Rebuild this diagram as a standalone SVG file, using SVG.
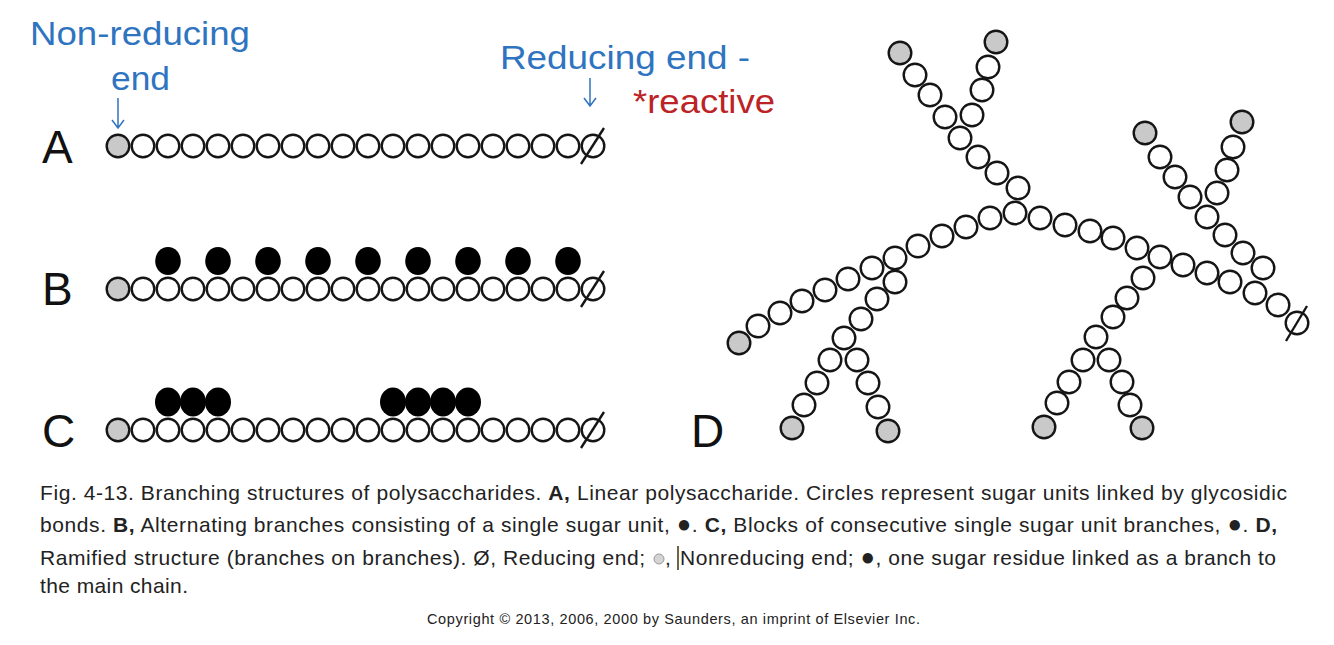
<svg xmlns="http://www.w3.org/2000/svg" xmlns:xlink="http://www.w3.org/1999/xlink" width="1334" height="645" viewBox="0 0 1334 645">
<style>
.u{fill:#fff;stroke:#151515;stroke-width:2.4}
.g{fill:#c9c9c9;stroke:#151515;stroke-width:2.4}
.b{fill:#000}
.sl{stroke:#151515;stroke-width:2.4}
.lbl{font-family:"Liberation Sans",Arial,sans-serif;font-size:46px;fill:#111}
.blue{font-family:"Liberation Sans",Arial,sans-serif;font-size:33px;fill:#2E74C0}
.red{font-family:"Liberation Sans",Arial,sans-serif;font-size:33px;fill:#BB2326}
.cap{font-family:"Liberation Sans",Arial,sans-serif;font-size:21px;fill:#222}
.bul{font-size:24px}
.copy{font-family:"Liberation Sans",Arial,sans-serif;font-size:14.5px;fill:#222}
.arr{stroke:#2E74C0;stroke-width:1.5;fill:none}
</style>
<defs>
<circle id="cu" r="11.3" class="u"/>
<circle id="cg" r="11.3" class="g"/>
</defs>
<rect width="1334" height="645" fill="#fff"/>

<g id="annotations">
<text class="blue" x="30" y="45" textLength="220" lengthAdjust="spacingAndGlyphs">Non-reducing</text>
<text class="blue" x="111" y="90" textLength="59" lengthAdjust="spacingAndGlyphs">end</text>
<text class="blue" x="500" y="69" textLength="250" lengthAdjust="spacingAndGlyphs">Reducing end -</text>
<text class="red" x="633" y="113" textLength="142" lengthAdjust="spacingAndGlyphs">*reactive</text>
</g>

<g id="connectors">
<path class="arr" d="M118 98 V128 M112 120 L118 128 L124 120"/>
<path class="arr" d="M590 78 V106 M584 98 L590 106 L596 98"/>
</g>

<g id="labels">
<text class="lbl" x="42" y="163">A</text>
<text class="lbl" x="42" y="305">B</text>
<text class="lbl" x="42" y="447">C</text>
<text class="lbl" x="691" y="447">D</text>
</g>

<g id="row-a">
<use xlink:href="#cg" x="118" y="146"/>
<use xlink:href="#cu" x="143" y="146"/><use xlink:href="#cu" x="168" y="146"/><use xlink:href="#cu" x="193" y="146"/><use xlink:href="#cu" x="218" y="146"/><use xlink:href="#cu" x="243" y="146"/><use xlink:href="#cu" x="268" y="146"/><use xlink:href="#cu" x="293" y="146"/><use xlink:href="#cu" x="318" y="146"/><use xlink:href="#cu" x="343" y="146"/><use xlink:href="#cu" x="368" y="146"/><use xlink:href="#cu" x="393" y="146"/><use xlink:href="#cu" x="418" y="146"/><use xlink:href="#cu" x="443" y="146"/><use xlink:href="#cu" x="468" y="146"/><use xlink:href="#cu" x="493" y="146"/><use xlink:href="#cu" x="518" y="146"/><use xlink:href="#cu" x="543" y="146"/><use xlink:href="#cu" x="568" y="146"/>
<use xlink:href="#cu" x="593" y="146"/><line class="sl" x1="581" y1="164" x2="604" y2="128"/>
</g>

<g id="row-b">
<ellipse class="b" cx="168" cy="261" rx="12.8" ry="14"/><ellipse class="b" cx="218" cy="261" rx="12.8" ry="14"/><ellipse class="b" cx="268" cy="261" rx="12.8" ry="14"/><ellipse class="b" cx="318" cy="261" rx="12.8" ry="14"/><ellipse class="b" cx="368" cy="261" rx="12.8" ry="14"/><ellipse class="b" cx="418" cy="261" rx="12.8" ry="14"/><ellipse class="b" cx="468" cy="261" rx="12.8" ry="14"/><ellipse class="b" cx="518" cy="261" rx="12.8" ry="14"/><ellipse class="b" cx="568" cy="261" rx="12.8" ry="14"/>
<use xlink:href="#cg" x="118" y="289"/>
<use xlink:href="#cu" x="143" y="289"/><use xlink:href="#cu" x="168" y="289"/><use xlink:href="#cu" x="193" y="289"/><use xlink:href="#cu" x="218" y="289"/><use xlink:href="#cu" x="243" y="289"/><use xlink:href="#cu" x="268" y="289"/><use xlink:href="#cu" x="293" y="289"/><use xlink:href="#cu" x="318" y="289"/><use xlink:href="#cu" x="343" y="289"/><use xlink:href="#cu" x="368" y="289"/><use xlink:href="#cu" x="393" y="289"/><use xlink:href="#cu" x="418" y="289"/><use xlink:href="#cu" x="443" y="289"/><use xlink:href="#cu" x="468" y="289"/><use xlink:href="#cu" x="493" y="289"/><use xlink:href="#cu" x="518" y="289"/><use xlink:href="#cu" x="543" y="289"/><use xlink:href="#cu" x="568" y="289"/>
<use xlink:href="#cu" x="593" y="289"/><line class="sl" x1="581" y1="307" x2="604" y2="271"/>
</g>

<g id="row-c">
<ellipse class="b" cx="168" cy="402" rx="13" ry="14.5"/><ellipse class="b" cx="193" cy="402" rx="13" ry="14.5"/><ellipse class="b" cx="218" cy="402" rx="13" ry="14.5"/>
<ellipse class="b" cx="393" cy="402" rx="13" ry="14.5"/><ellipse class="b" cx="418" cy="402" rx="13" ry="14.5"/><ellipse class="b" cx="443" cy="402" rx="13" ry="14.5"/><ellipse class="b" cx="468" cy="402" rx="13" ry="14.5"/>
<use xlink:href="#cg" x="118" y="430"/>
<use xlink:href="#cu" x="143" y="430"/><use xlink:href="#cu" x="168" y="430"/><use xlink:href="#cu" x="193" y="430"/><use xlink:href="#cu" x="218" y="430"/><use xlink:href="#cu" x="243" y="430"/><use xlink:href="#cu" x="268" y="430"/><use xlink:href="#cu" x="293" y="430"/><use xlink:href="#cu" x="318" y="430"/><use xlink:href="#cu" x="343" y="430"/><use xlink:href="#cu" x="368" y="430"/><use xlink:href="#cu" x="393" y="430"/><use xlink:href="#cu" x="418" y="430"/><use xlink:href="#cu" x="443" y="430"/><use xlink:href="#cu" x="468" y="430"/><use xlink:href="#cu" x="493" y="430"/><use xlink:href="#cu" x="518" y="430"/><use xlink:href="#cu" x="543" y="430"/><use xlink:href="#cu" x="568" y="430"/>
<use xlink:href="#cu" x="593" y="430"/><line class="sl" x1="581" y1="448" x2="604" y2="412"/>
</g>

<g id="ramified-d">
<g id="d-upper-left">
<use xlink:href="#cg" x="900" y="53"/><use xlink:href="#cu" x="915" y="75"/><use xlink:href="#cu" x="930" y="95"/><use xlink:href="#cu" x="945" y="117"/>
<use xlink:href="#cg" x="996" y="42"/><use xlink:href="#cu" x="988" y="67"/><use xlink:href="#cu" x="982" y="90"/><use xlink:href="#cu" x="972" y="115"/>
<use xlink:href="#cu" x="960" y="138"/><use xlink:href="#cu" x="978" y="157"/><use xlink:href="#cu" x="997" y="173"/><use xlink:href="#cu" x="1018" y="188"/>
</g>
<g id="d-upper-right">
<use xlink:href="#cg" x="1145" y="133"/><use xlink:href="#cu" x="1160" y="157"/><use xlink:href="#cu" x="1175" y="177"/><use xlink:href="#cu" x="1190" y="197"/>
<use xlink:href="#cg" x="1242" y="122"/><use xlink:href="#cu" x="1233" y="147"/><use xlink:href="#cu" x="1227" y="170"/><use xlink:href="#cu" x="1217" y="193"/>
<use xlink:href="#cu" x="1207" y="217"/><use xlink:href="#cu" x="1225" y="235"/><use xlink:href="#cu" x="1243" y="253"/><use xlink:href="#cu" x="1263" y="268"/>
</g>
<g id="d-lower-left">
<use xlink:href="#cu" x="895" y="282"/><use xlink:href="#cu" x="877" y="299"/><use xlink:href="#cu" x="861" y="319"/><use xlink:href="#cu" x="844" y="338"/>
<use xlink:href="#cu" x="830" y="360"/><use xlink:href="#cu" x="817" y="383"/><use xlink:href="#cu" x="804" y="405"/><use xlink:href="#cg" x="792" y="428"/>
<use xlink:href="#cu" x="857" y="360"/><use xlink:href="#cu" x="868" y="383"/><use xlink:href="#cu" x="878" y="407"/><use xlink:href="#cg" x="888" y="431"/>
</g>
<g id="d-lower-right">
<use xlink:href="#cu" x="1143" y="278"/><use xlink:href="#cu" x="1127" y="298"/><use xlink:href="#cu" x="1113" y="317"/><use xlink:href="#cu" x="1096" y="337"/>
<use xlink:href="#cu" x="1083" y="360"/><use xlink:href="#cu" x="1069" y="382"/><use xlink:href="#cu" x="1057" y="403"/><use xlink:href="#cg" x="1044" y="427"/>
<use xlink:href="#cu" x="1109" y="360"/><use xlink:href="#cu" x="1122" y="382"/><use xlink:href="#cu" x="1130" y="405"/><use xlink:href="#cg" x="1142" y="428"/>
</g>
<g id="d-main-chain">
<use xlink:href="#cg" x="739" y="343"/><use xlink:href="#cu" x="758" y="326"/><use xlink:href="#cu" x="780" y="313"/><use xlink:href="#cu" x="802" y="301"/><use xlink:href="#cu" x="825" y="290"/><use xlink:href="#cu" x="848" y="279"/><use xlink:href="#cu" x="872" y="268"/><use xlink:href="#cu" x="895" y="258"/><use xlink:href="#cu" x="918" y="246"/><use xlink:href="#cu" x="942" y="236"/><use xlink:href="#cu" x="966" y="227"/><use xlink:href="#cu" x="990" y="218"/><use xlink:href="#cu" x="1015" y="213"/><use xlink:href="#cu" x="1040" y="218"/><use xlink:href="#cu" x="1065" y="225"/><use xlink:href="#cu" x="1090" y="231"/><use xlink:href="#cu" x="1113" y="238"/><use xlink:href="#cu" x="1137" y="248"/><use xlink:href="#cu" x="1160" y="257"/><use xlink:href="#cu" x="1183" y="265"/><use xlink:href="#cu" x="1207" y="273"/><use xlink:href="#cu" x="1230" y="282"/><use xlink:href="#cu" x="1255" y="293"/><use xlink:href="#cu" x="1278" y="305"/>
<use xlink:href="#cu" x="1297" y="323"/><line class="sl" x1="1286" y1="341" x2="1307" y2="306"/>
</g>
</g>

<g id="caption">
<text class="cap" x="40" y="500" textLength="1247" lengthAdjust="spacing">Fig. 4-13. Branching structures of polysaccharides. <tspan font-weight="bold">A,</tspan> Linear polysaccharide. Circles represent sugar units linked by glycosidic</text>
<text class="cap" x="40" y="532" textLength="1237" lengthAdjust="spacing">bonds. <tspan font-weight="bold">B,</tspan> Alternating branches consisting of a single sugar unit, <tspan class="bul">●</tspan>. <tspan font-weight="bold">C,</tspan> Blocks of consecutive single sugar unit branches, <tspan class="bul">●</tspan>. <tspan font-weight="bold">D,</tspan></text>
<text class="cap" x="40" y="565" textLength="605" lengthAdjust="spacing">Ramified structure (branches on branches). Ø, Reducing end;</text>
<circle cx="659" cy="559" r="5" fill="#d4d4d4" stroke="#9a9a9a" stroke-width="1"/>
<text class="cap" x="665" y="565">,</text>
<line x1="678" y1="546" x2="678" y2="570" stroke="#4a3f1c" stroke-width="1.6"/>
<text class="cap" x="680" y="565" textLength="596" lengthAdjust="spacing">Nonreducing end; <tspan class="bul">●</tspan>, one sugar residue linked as a branch to</text>
<text class="cap" x="40" y="593" textLength="148" lengthAdjust="spacing">the main chain.</text>
<text class="copy" x="427" y="624" textLength="493" lengthAdjust="spacing">Copyright © 2013, 2006, 2000 by Saunders, an imprint of Elsevier Inc.</text>
</g>
</svg>
